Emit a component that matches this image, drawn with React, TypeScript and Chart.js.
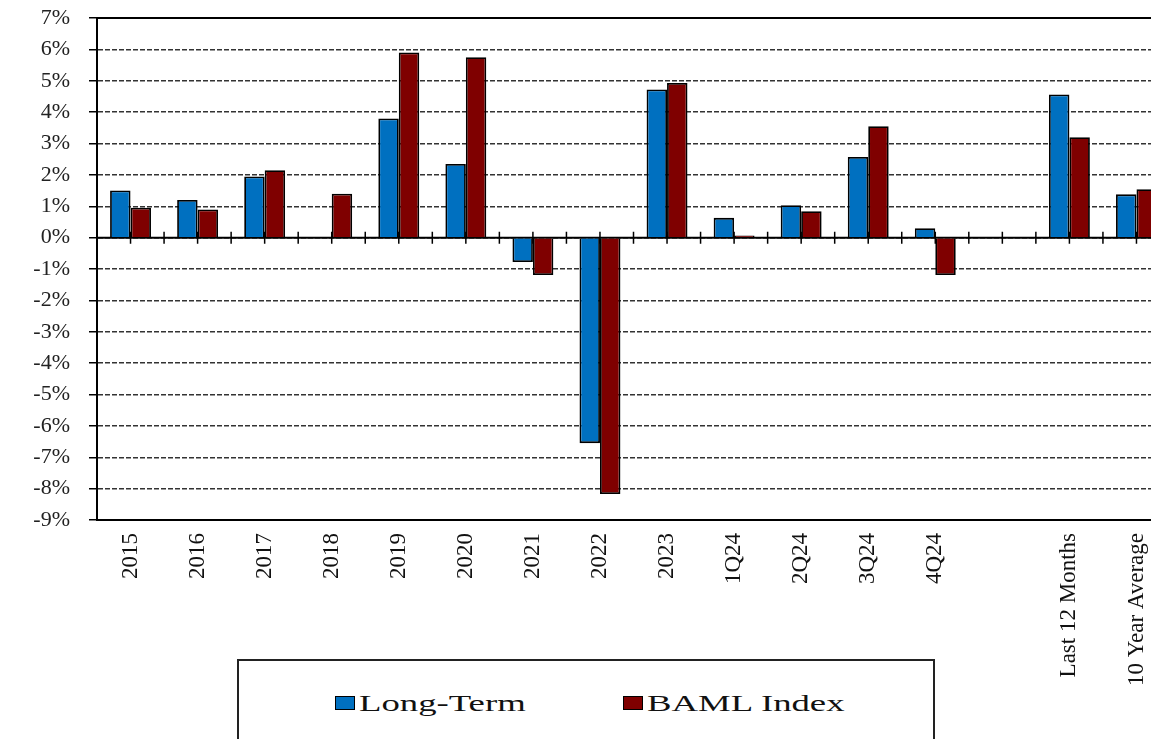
import React, { useEffect, useRef } from "react";
import { Chart, registerables } from "chart.js";

Chart.register(...registerables);

const categories = [
  "2015", "2016", "2017", "2018", "2019", "2020", "2021", "2022", "2023",
  "1Q24", "2Q24", "3Q24", "4Q24", "", "Last 12 Months", "10 Year Average",
];
const longTerm = [1.5, 1.2, 1.95, null, 3.8, 2.35, -0.78, -6.55, 4.72, 0.63, 1.03, 2.57, 0.3, null, 4.56, 1.38];
const bamlIndex = [0.95, 0.9, 2.15, 1.4, 5.9, 5.75, -1.19, -8.17, 4.93, 0.07, 0.84, 3.55, -1.19, null, 3.2, 1.54];
const seriesNames = ["Long-Term", "BAML Index"];
const seriesColors = ["#0070C0", "#7F0000"];
const yMin = -9;
const yMax = 7;

const SERIF = "'Times New Roman', 'Liberation Serif', serif";

const axisMarks = {
  id: "axisMarks",
  beforeDatasetsDraw(chart: any) {
    const { ctx, chartArea } = chart;
    const xs = chart.scales.x;
    const ys = chart.scales.y;
    const y0 = ys.getPixelForValue(0);
    ctx.save();
    ctx.strokeStyle = "#000";
    ctx.lineWidth = 2;
    ctx.setLineDash([]);
    ctx.beginPath();
    ctx.moveTo(chartArea.left, y0);
    ctx.lineTo(chartArea.right, y0);
    ctx.moveTo(chartArea.left, chartArea.top);
    ctx.lineTo(chartArea.right, chartArea.top);
    ctx.stroke();
    const half = (xs.getPixelForValue(1) - xs.getPixelForValue(0)) / 2;
    ctx.lineWidth = 1.5;
    ctx.beginPath();
    for (let i = 0; i < categories.length; i++) {
      const c = xs.getPixelForValue(i);
      [c, c + half].forEach((px) => {
        ctx.moveTo(px, y0 - 6);
        ctx.lineTo(px, y0 + 6);
      });
    }
    ctx.stroke();
    ctx.restore();
  },
};

function BarChart() {
  const ref = useRef<HTMLCanvasElement | null>(null);
  useEffect(() => {
    if (!ref.current) return;
    const chart = new Chart(ref.current, {
      type: "bar",
      data: {
        labels: categories,
        datasets: [
          {
            label: seriesNames[0],
            data: longTerm,
            backgroundColor: seriesColors[0],
            borderColor: "#000",
            borderWidth: 1.8,
          },
          {
            label: seriesNames[1],
            data: bamlIndex,
            backgroundColor: seriesColors[1],
            borderColor: "#000",
            borderWidth: 1.8,
          },
        ],
      },
      options: {
        responsive: false,
        animation: false,
        layout: { padding: { left: 0, top: 10, right: 8, bottom: 0 } },
        datasets: { bar: { categoryPercentage: 0.61, barPercentage: 1 } },
        plugins: {
          legend: { display: false },
          tooltip: { enabled: false },
        },
        scales: {
          x: {
            grid: { display: false, drawTicks: false },
            border: { display: true, color: "#000", width: 2 },
            ticks: {
              minRotation: 90,
              maxRotation: 90,
              autoSkip: false,
              padding: 13,
              color: "#111",
              font: { family: SERIF, size: 23 },
            },
            afterFit(scale: any) {
              scale.height = 219;
              scale.paddingLeft = 0;
              scale.paddingRight = 0;
            },
          },
          y: {
            min: yMin,
            max: yMax,
            ticks: {
              stepSize: 1,
              padding: 19,
              color: "#222",
              font: { family: SERIF, size: 22, lineHeight: 1 },
              callback: (v: any) => `${v}%`,
            },
            grid: {
              color: "#333",
              lineWidth: 1.5,
              tickLength: 8,
              tickColor: "#000",
              tickWidth: 1.5,
              tickBorderDash: [],
            },
            border: { display: true, color: "#000", width: 2, dash: [5, 2] },
            afterFit(scale: any) {
              scale.width = 89;
              scale.paddingTop = 0;
              scale.paddingBottom = 0;
            },
          },
        },
      },
      plugins: [axisMarks],
    } as any);
    return () => chart.destroy();
  }, []);
  return <canvas ref={ref} width={1170} height={731} style={{ display: "block", width: 1170, height: 731 }} />;
}

function LegendItem({ color, text, left }: { color: string; text: string; left: number }) {
  return (
    <div style={{ position: "absolute", left, top: 32, height: 20, display: "flex", alignItems: "center" }}>
      <div
        style={{
          width: 20,
          height: 14,
          background: color,
          border: "1.5px solid #000",
          boxSizing: "border-box",
          marginRight: 4,
        }}
      />
      <span
        style={{
          display: "inline-block",
          fontFamily: SERIF,
          fontSize: 24,
          color: "#111",
          transform: "scaleX(1.53)",
          transformOrigin: "left center",
          whiteSpace: "nowrap",
          lineHeight: "20px",
        }}
      >
        {text}
      </span>
    </div>
  );
}

export default function App() {
  return (
    <div style={{ position: "relative", width: 1151, height: 731, overflow: "hidden", background: "#fff" }}>
      <BarChart />
      <div
        style={{
          position: "absolute",
          left: 229,
          top: 651,
          width: 698,
          height: 130,
          border: "2px solid #222",
          boxSizing: "border-box",
          background: "#fff",
        }}
      >
        <LegendItem color={seriesColors[0]} text={seriesNames[0]} left={96} />
        <LegendItem color={seriesColors[1]} text={seriesNames[1]} left={384} />
      </div>
    </div>
  );
}
